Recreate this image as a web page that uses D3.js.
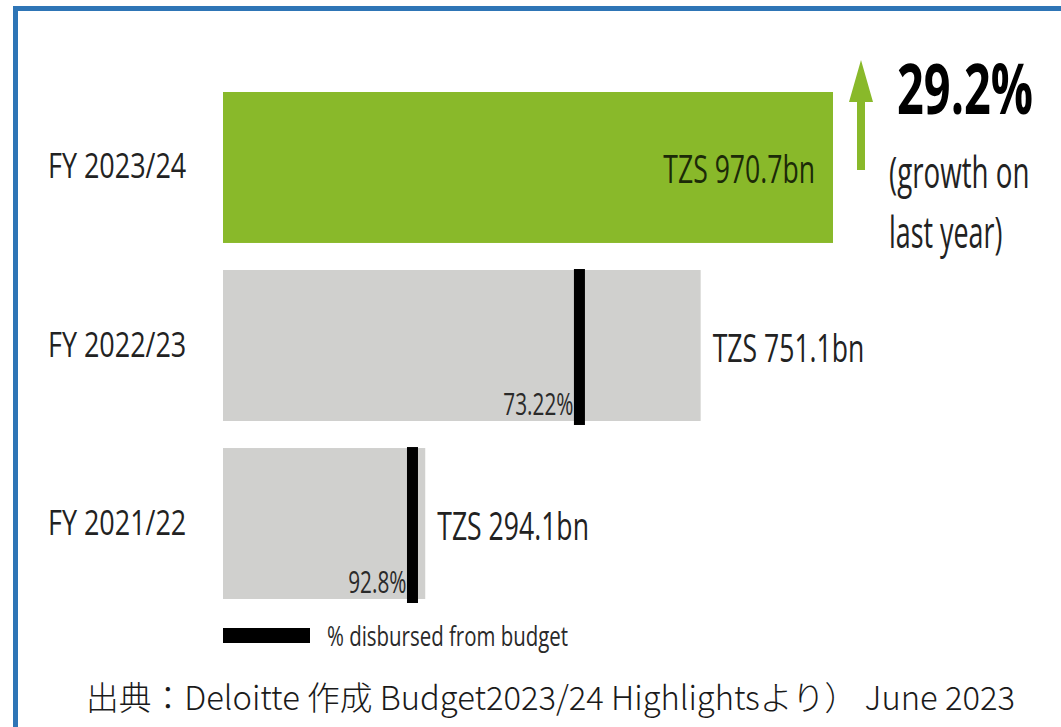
<!DOCTYPE html>
<html>
<head>
<meta charset="utf-8">
<script src="https://cdn.jsdelivr.net/npm/d3@7"></script>
<style>
  body { margin: 0; background: #fff; }
  text { font-family: 'Open Sans', sans-serif; }
</style>
</head>
<body>
<div class="chart"></div>
<script>
// values
const years = ['FY 2023/24', 'FY 2022/23', 'FY 2021/22'];
const budgets = [970.7, 751.1, 294.1];           // TZS bn
const disbursed = [null, 73.22, 92.8];           // % disbursed from budget
const growth = 29.2;                             // % growth on last year

const width = 1061;
const height = 727;

const svg = d3.select('.chart')
    .append('svg')
    .attr('width', width)
    .attr('height', height);

svg.append('rect')
    .attr('width', width)
    .attr('height', height)
    .attr('fill', '#fff');

// blue frame (top + left)
svg.append('path')
    .attr('d', 'M15.5,' + height + 'V8.5H' + width)
    .attr('fill', 'none')
    .attr('stroke', '#2e75b6')
    .attr('stroke-width', 5);

// squeeze text horizontally (the original uses a narrow font)
function condense(sel, k) {
    sel.each(function() {
        const t = d3.select(this);
        const x = +t.attr('x'), y = +t.attr('y');
        t.attr('x', 0).attr('y', 0)
            .attr('transform', 'translate(' + x + ',' + y + ') scale(' + k + ',1)');
    });
}

const data = years.map((y, i) => ({year: y, budget: budgets[i], pct: disbursed[i]}));

const x0 = 223;
const xScale = d3.scaleLinear()
    .domain([0, d3.max(budgets)])
    .range([248, 833]);

const yScale = d3.scaleBand()
    .domain(years)
    .range([92, 599])
    .paddingInner(0.152)
    .paddingOuter(0);

// bars
svg.selectAll('.bar')
    .data(data)
    .enter()
    .append('rect')
    .attr('class', 'bar')
    .attr('x', x0)
    .attr('y', d => yScale(d.year))
    .attr('width', d => xScale(d.budget) - x0)
    .attr('height', yScale.bandwidth())
    .attr('fill', (d, i) => i === 0 ? '#89b92a' : '#d0d0ce');

// year labels
svg.selectAll('.year')
    .data(data)
    .enter()
    .append('text')
    .attr('class', 'year')
    .attr('x', 48)
    .attr('y', d => yScale(d.year) + yScale.bandwidth() / 2 + 11)
    .attr('font-size', 35)
    .attr('fill', '#222')
    .text(d => d.year)
    .call(condense, 0.77);

// budget labels: inside for the first bar, outside for the others
svg.selectAll('.value')
    .data(data)
    .enter()
    .append('text')
    .attr('class', 'value')
    .attr('x', (d, i) => i === 0 ? xScale(d.budget) - 18 : xScale(d.budget) + 12)
    .attr('y', d => yScale(d.year) + yScale.bandwidth() / 2 + 16)
    .attr('text-anchor', (d, i) => i === 0 ? 'end' : 'start')
    .attr('font-size', 38)
    .attr('fill', (d, i) => i === 0 ? '#1c2a08' : '#222')
    .text(d => 'TZS ' + d3.format('.1f')(d.budget) + 'bn')
    .call(condense, 0.7);

// disbursed markers
const withPct = data.filter(d => d.pct != null);

svg.selectAll('.marker')
    .data(withPct)
    .enter()
    .append('rect')
    .attr('class', 'marker')
    .attr('x', d => xScale(d.budget * d.pct / 100) - 5.5)
    .attr('y', d => yScale(d.year) - 1)
    .attr('width', 11)
    .attr('height', yScale.bandwidth() + 5)
    .attr('fill', '#000');

svg.selectAll('.pct')
    .data(withPct)
    .enter()
    .append('text')
    .attr('class', 'pct')
    .attr('x', d => xScale(d.budget * d.pct / 100) - 6)
    .attr('y', d => yScale(d.year) + yScale.bandwidth() - 6)
    .attr('text-anchor', 'end')
    .attr('font-size', 31)
    .attr('fill', '#2a2a2a')
    .text(d => d.pct + '%')
    .call(condense, 0.67);

// growth arrow + callout
svg.append('path')
    .attr('d', 'M861,60 L873,102 L865,102 L865,170 L857,170 L857,102 L849,102 Z')
    .attr('fill', '#89b92a');

svg.append('text')
    .attr('x', 897)
    .attr('y', 114)
    .attr('font-size', 70)
    .attr('font-weight', 'bold')
    .attr('fill', '#000')
    .text(growth + '%')
    .call(condense, 0.67);

svg.append('text')
    .attr('x', 889)
    .attr('y', 188)
    .attr('font-size', 44)
    .attr('fill', '#222')
    .text('(growth on')
    .call(condense, 0.63);

svg.append('text')
    .attr('x', 889)
    .attr('y', 248)
    .attr('font-size', 44)
    .attr('fill', '#222')
    .text('last year)')
    .call(condense, 0.61);

// legend
svg.append('rect')
    .attr('x', 223)
    .attr('y', 628)
    .attr('width', 87)
    .attr('height', 15)
    .attr('fill', '#000');

svg.append('text')
    .attr('x', 327)
    .attr('y', 646)
    .attr('font-size', 28)
    .attr('fill', '#2a2a2a')
    .text('% disbursed from budget')
    .call(condense, 0.73);

// source line, fitted to the width it has in the original
const source = svg.append('text')
    .attr('x', 86)
    .attr('y', 710)
    .attr('font-size', 33)
    .attr('font-weight', 300)
    .attr('fill', '#1a1a1a')
    .style('font-family', "'Noto Sans CJK JP', sans-serif")
    .text('出典：Deloitte 作成 Budget2023/24 Highlightsより） June 2023');
source.call(condense, 929 / source.node().getComputedTextLength());
</script>
</body>
</html>
